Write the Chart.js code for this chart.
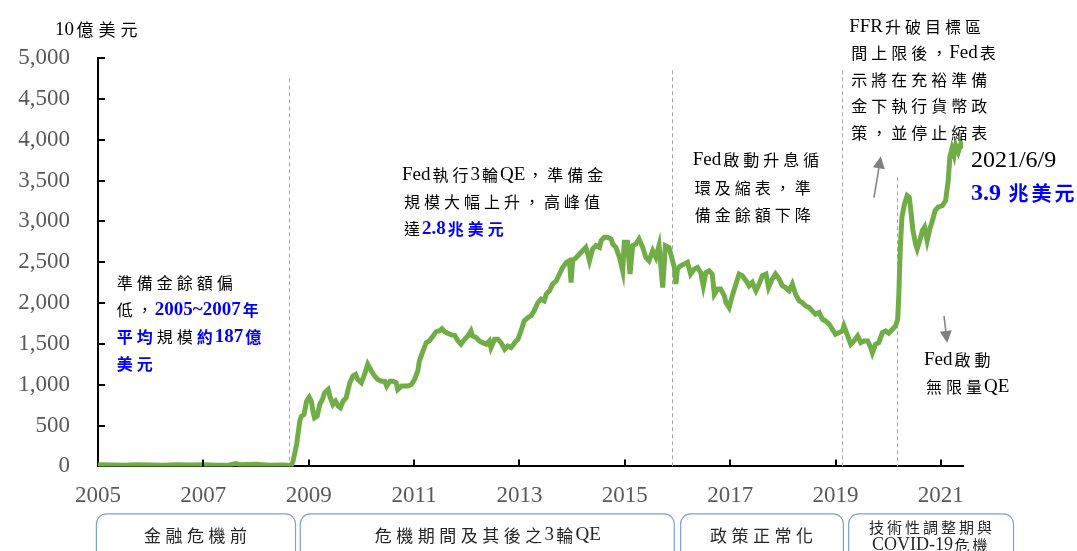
<!DOCTYPE html>
<html>
<head>
<meta charset="utf-8">
<script src="https://cdn.jsdelivr.net/npm/chart.js@4.4.1/dist/chart.umd.min.js"></script>
<style>
  body { margin: 0; background: #fff; }
  #wrap { width: 1077px; height: 551px; }
</style>
</head>
<body>
<div id="wrap"><canvas id="reserveChart"></canvas></div>
<script>
// reserve balances, bn USD, dates as decimal years
const dates = [
  2005.00, 2005.25, 2005.50, 2005.75, 2006.00, 2006.25, 2006.50, 2006.75, 2007.00, 2007.25, 2007.50, 2007.62, 2007.70, 2008.00, 2008.25, 2008.50, 2008.67,
  2008.70, 2008.77, 2008.83, 2008.86, 2008.91, 2008.96,
  2009.01, 2009.05, 2009.08, 2009.11, 2009.16, 2009.21, 2009.26, 2009.30, 2009.37, 2009.40, 2009.46, 2009.51, 2009.56, 2009.60, 2009.65, 2009.71, 2009.78, 2009.84, 2009.89, 2009.93,
  2010.00, 2010.06, 2010.12, 2010.19, 2010.25, 2010.31, 2010.38, 2010.44, 2010.48, 2010.54, 2010.60, 2010.66, 2010.69, 2010.76, 2010.82, 2010.88, 2010.95,
  2011.01, 2011.07, 2011.10, 2011.17, 2011.23, 2011.29, 2011.36, 2011.42, 2011.48, 2011.53, 2011.58, 2011.64, 2011.71, 2011.77, 2011.83, 2011.89, 2011.96,
  2012.02, 2012.08, 2012.11, 2012.18, 2012.24, 2012.30, 2012.37, 2012.43, 2012.46, 2012.53, 2012.59, 2012.65, 2012.72, 2012.78, 2012.84, 2012.91, 2012.97,
  2013.03, 2013.09, 2013.16, 2013.22, 2013.28, 2013.35, 2013.41, 2013.47, 2013.51, 2013.57, 2013.63, 2013.70, 2013.76, 2013.82, 2013.89, 2013.95, 2013.98,
  2014.01, 2014.08, 2014.14, 2014.20, 2014.26, 2014.29, 2014.33, 2014.39, 2014.45, 2014.52, 2014.55, 2014.61, 2014.67, 2014.74, 2014.77, 2014.83, 2014.90, 2014.96, 2014.99,
  2015.05, 2015.10, 2015.15, 2015.21, 2015.27, 2015.34, 2015.40, 2015.46, 2015.53, 2015.59, 2015.65, 2015.72, 2015.77, 2015.84, 2015.89, 2015.94, 2015.97,
  2016.00, 2016.06, 2016.13, 2016.19, 2016.25, 2016.32, 2016.38, 2016.44, 2016.49, 2016.54, 2016.60, 2016.66, 2016.70, 2016.76, 2016.82, 2016.89, 2016.92, 2016.98,
  2017.04, 2017.11, 2017.17, 2017.23, 2017.30, 2017.36, 2017.42, 2017.49, 2017.55, 2017.61, 2017.68, 2017.73, 2017.80, 2017.86, 2017.93, 2017.99,
  2018.05, 2018.12, 2018.18, 2018.24, 2018.31, 2018.37, 2018.43, 2018.50, 2018.56, 2018.62, 2018.69, 2018.75, 2018.81, 2018.88, 2018.94,
  2019.00, 2019.07, 2019.13, 2019.16, 2019.22, 2019.29, 2019.35, 2019.42, 2019.48, 2019.54, 2019.61, 2019.67, 2019.70, 2019.76, 2019.82, 2019.89, 2019.95,
  2020.01, 2020.08, 2020.14, 2020.18, 2020.20, 2020.23, 2020.26, 2020.31, 2020.36, 2020.40, 2020.43, 2020.47, 2020.52, 2020.55, 2020.60, 2020.65, 2020.69, 2020.74, 2020.79, 2020.84, 2020.89, 2020.95,
  2021.03, 2021.09, 2021.14, 2021.17, 2021.21, 2021.25, 2021.28, 2021.33, 2021.38, 2021.42
];
const reserves = [
  20, 17, 15, 21, 17, 14, 19, 16, 20, 15, 18, 35, 20, 25, 15, 18, 12,
  60, 266, 553, 614, 635, 798,
  848, 798, 676, 594, 614, 758, 819, 901, 942, 860, 758, 798, 737, 717, 798, 839, 1024, 1106, 1126, 1065,
  1024, 1126, 1249, 1167, 1106, 1065, 1044, 1044, 983, 1044, 1044, 1024, 942, 983, 983, 983, 1003,
  1065, 1167, 1290, 1413, 1515, 1536, 1597, 1650, 1658, 1685, 1650, 1630, 1610, 1605, 1540, 1495, 1556,
  1597, 1658, 1597, 1576, 1536, 1515, 1495, 1536, 1454, 1556, 1556, 1515, 1433, 1474, 1454, 1515, 1556,
  1658, 1781, 1822, 1843, 1904, 2006, 2048, 2027, 2109, 2150, 2232, 2273, 2355, 2436, 2497, 2518, 2252,
  2518, 2559, 2600, 2641, 2682, 2620, 2518, 2662, 2703, 2682, 2764, 2805, 2805, 2784, 2723, 2682, 2559, 2395, 2743,
  2743, 2355, 2703, 2723, 2784, 2682, 2559, 2518, 2641, 2559, 2703, 2190, 2703, 2680, 2560, 2436, 2232,
  2416, 2457, 2478, 2498, 2355, 2416, 2436, 2375, 2211, 2375, 2395, 2355, 2109, 2171, 2171, 2088, 2006, 1945,
  2088, 2232, 2355, 2334, 2273, 2211, 2252, 2150, 2232, 2334, 2355, 2190, 2293, 2355, 2293, 2211,
  2190, 2150, 2232, 2109, 2027, 2006, 1966, 1945, 1904, 1863, 1883, 1802, 1781, 1740, 1679,
  1617, 1638, 1658, 1720, 1617, 1495, 1536, 1597, 1515, 1536, 1536, 1454, 1392, 1495, 1515, 1638, 1658,
  1630, 1679, 1720, 1800, 2068, 2682, 3050, 3215, 3317, 3296, 3133, 2887, 2723, 2662, 2764, 2887, 2928, 2764, 2907, 3010, 3133, 3173,
  3194, 3256, 3501, 3788, 3891, 3808, 3931, 3849, 3952, 3891
];

const yearTicks = [2005, 2007, 2009, 2011, 2013, 2015, 2017, 2019, 2021];

// regime breaks (dashed lines) and the phase boxes under the axis
const phaseBreaks = [2008.62, 2015.89, 2019.12, 2020.16];
const breakTops = [4750, 4850, 4850, 3540];
const phaseSpans = [[2004.96, 2008.74], [2008.83, 2015.93], [2016.05, 2019.14], [2019.24, 2022.37]];
const phaseNames = [['金融危機前'], ['危機期間及其後之3輪QE'], ['政策正常化'], ['技術性調整期與', 'COVID-19危機']];

const K = '#000000';
const B = '#0000FF';
const notes = [
  { at: [2005.32, 2248], step: 27, lines: [
    [['準備金餘額偏', K]],
    [['低，', K], ['2005~2007年', B, true]],
    [['平均', B, true], ['規模', K], ['約187億', B, true]],
    [['美元', B, true]]
  ]},
  { at: [2010.77, 3563], step: 27, lines: [
    [['Fed執行3輪QE，準備金', K]],
    [['規模大幅上升，高峰值', K]],
    [['達', K], ['2.8兆美元', B, true]]
  ]},
  { at: [2016.29, 3747], step: 27.5, lines: [
    [['Fed啟動升息循', K]],
    [['環及縮表，準', K]],
    [['備金餘額下降', K]]
  ]},
  { at: [2019.26, 5381], step: 26.5, lines: [
    [['FFR升破目標區', K]],
    [['間上限後，Fed表', K]],
    [['示將在充裕準備', K]],
    [['金下執行貨幣政', K]],
    [['策，並停止縮表', K]]
  ]},
  { at: [2020.68, 1302], step: 27, lines: [
    [['Fed啟動', K]],
    [['無限量QE', K]]
  ]}
];
const arrows = [[2019.73, 3292, 2019.86, 3796], [2021.06, 1843, 2021.12, 1511]];

function richText(ctx, x, y, runs, f, draw) {
  let cx = x;
  runs.forEach(([text, color, bold]) => {
    const w = bold ? 'bold ' : '';
    ctx.fillStyle = color;
    (text.match(/[\u2e80-\uffff]|[^\u2e80-\uffff]+/g) || []).forEach(seg => {
      if (seg.charCodeAt(0) >= 0x2e80) {
        ctx.font = w + f.cjk + 'px "Noto Sans CJK TC"';
        const m = ctx.measureText(seg).width;
        if (draw) ctx.fillText(seg, cx + (f.adv - m) / 2, y);
        cx += f.adv;
      } else {
        ctx.font = w + f.latin + 'px "Liberation Serif"';
        if (draw) ctx.fillText(seg, cx, y);
        cx += ctx.measureText(seg).width;
      }
    });
  });
  return cx - x;
}

function arrow(ctx, x1, y1, x2, y2) {
  const a = Math.atan2(y2 - y1, x2 - x1);
  const head = 12, half = 6;
  const bx = x2 - head * Math.cos(a), by = y2 - head * Math.sin(a);
  ctx.beginPath();
  ctx.moveTo(x1, y1);
  ctx.lineTo(bx, by);
  ctx.stroke();
  ctx.beginPath();
  ctx.moveTo(x2, y2);
  ctx.lineTo(bx + half * Math.sin(a), by - half * Math.cos(a));
  ctx.lineTo(bx - half * Math.sin(a), by + half * Math.cos(a));
  ctx.closePath();
  ctx.fill();
}

const decor = {
  id: 'decor',
  beforeDatasetsDraw(chart) {
    const {ctx, scales: {x, y}} = chart;
    ctx.save();
    ctx.strokeStyle = '#A6A6A6';
    ctx.lineWidth = 1;
    ctx.setLineDash([4, 3]);
    phaseBreaks.forEach((b, i) => {
      const px = Math.round(x.getPixelForValue(b)) + 0.5;
      ctx.beginPath();
      ctx.moveTo(px, y.getPixelForValue(breakTops[i]));
      ctx.lineTo(px, y.getPixelForValue(0));
      ctx.stroke();
    });
    ctx.restore();
  },
  afterDraw(chart) {
    const {ctx, scales: {x, y}} = chart;
    ctx.save();

    // inward tick marks
    ctx.strokeStyle = '#000';
    ctx.lineWidth = 2;
    y.ticks.forEach(t => {
      if (t.value === 0) return;
      const py = Math.round(y.getPixelForValue(t.value));
      ctx.beginPath();
      ctx.moveTo(x.left, py);
      ctx.lineTo(x.left + 7, py);
      ctx.stroke();
    });
    yearTicks.forEach(v => {
      if (v === 2005) return;
      const px = Math.round(x.getPixelForValue(v));
      ctx.beginPath();
      ctx.moveTo(px, y.bottom);
      ctx.lineTo(px, y.bottom - 7);
      ctx.stroke();
    });

    // unit label
    ctx.textBaseline = 'middle';
    ctx.textAlign = 'left';
    richText(ctx, x.left - 43, y.top - 28, [['10億美元', K]], {latin: 19, cjk: 17, adv: 22}, true);

    // notes
    const nf = {latin: 19, cjk: 16, adv: 20};
    notes.forEach(n => {
      const nx = x.getPixelForValue(n.at[0]);
      const ny = y.getPixelForValue(n.at[1]);
      n.lines.forEach((runs, i) => richText(ctx, nx, ny + i * n.step, runs, nf, true));
    });
    const ex = x.getPixelForValue(2021.57), ey = y.getPixelForValue(3747);
    richText(ctx, ex, ey, [['2021/6/9', K]], {latin: 24, cjk: 20, adv: 23}, true);
    richText(ctx, ex, ey + 33, [['3.9 兆美元', B, true]], {latin: 24, cjk: 20, adv: 23}, true);

    // arrows
    ctx.strokeStyle = '#808080';
    ctx.fillStyle = '#808080';
    ctx.lineWidth = 1.5;
    arrows.forEach(a => arrow(ctx, x.getPixelForValue(a[0]), y.getPixelForValue(a[1]), x.getPixelForValue(a[2]), y.getPixelForValue(a[3])));

    // phase boxes
    const top = y.bottom + 47;
    phaseSpans.forEach((s, i) => {
      const x1 = x.getPixelForValue(s[0]), x2 = x.getPixelForValue(s[1]);
      ctx.strokeStyle = '#7F9FD8';
      ctx.lineWidth = 1.2;
      ctx.beginPath();
      ctx.roundRect(x1 + 0.5, top + 0.5, x2 - x1, 60, 10);
      ctx.stroke();
      const names = phaseNames[i];
      const f = names.length > 1 ? {latin: 18, cjk: 15, adv: 18} : {latin: 19, cjk: 17, adv: 21.5};
      const ys = names.length > 1 ? [top + 14, top + 32] : [top + 22];
      names.forEach((t, j) => {
        const w = richText(ctx, 0, 0, [[t, '#262626']], f, false);
        richText(ctx, (x1 + x2) / 2 - w / 2, ys[j], [[t, '#262626']], f, true);
      });
    });
    ctx.restore();
  }
};

const axisFont = {family: 'Liberation Serif', size: 23};

new Chart(document.getElementById('reserveChart'), {
  type: 'line',
  data: {
    datasets: [{
      label: '準備金餘額',
      data: dates.map((d, i) => ({x: d, y: reserves[i]})),
      borderColor: '#70AD47',
      borderWidth: 5,
      pointRadius: 0,
      tension: 0,
      fill: false
    }]
  },
  options: {
    responsive: true,
    maintainAspectRatio: false,
    animation: false,
    layout: {padding: {left: 18, right: 114, top: 58, bottom: 25}},
    plugins: {
      legend: {display: false},
      tooltip: {enabled: false}
    },
    scales: {
      x: {
        type: 'linear',
        min: 2005,
        max: 2021.42,
        grid: {display: false, drawTicks: false},
        border: {display: true, color: '#000', width: 2},
        afterBuildTicks: s => { s.ticks = yearTicks.map(v => ({value: v})); },
        ticks: {
          callback: v => String(v),
          color: '#595959',
          font: axisFont,
          padding: 16,
          maxRotation: 0,
          autoSkip: false
        }
      },
      y: {
        min: 0,
        max: 5000,
        grid: {display: false, drawTicks: false},
        border: {display: true, color: '#000', width: 2},
        afterFit: s => { s.width = 80; },
        ticks: {
          stepSize: 500,
          callback: v => v.toLocaleString('en-US'),
          color: '#595959',
          font: axisFont,
          padding: 28
        }
      }
    }
  },
  plugins: [decor]
});
</script>
</body>
</html>
